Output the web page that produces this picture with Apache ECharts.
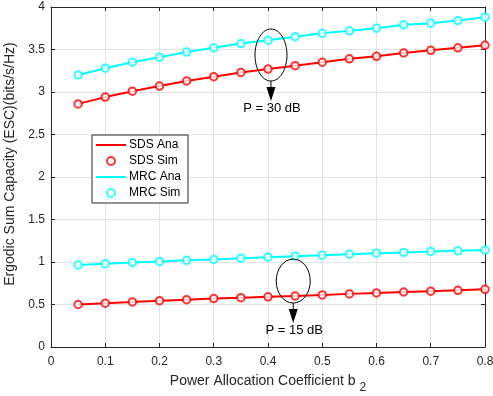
<!DOCTYPE html>
<html>
<head>
<meta charset="utf-8">
<script src="https://cdn.jsdelivr.net/npm/echarts@6/dist/echarts.min.js"></script>
<style>
  html, body { margin: 0; padding: 0; background: #fff; }
  #main { width: 493px; height: 396px; }
</style>
</head>
<body>
<div id="main"></div>
<script>
// power allocation coefficient b2
const xs = [0.05, 0.1, 0.15, 0.2, 0.25, 0.3, 0.35, 0.4, 0.45, 0.5, 0.55, 0.6, 0.65, 0.7, 0.75, 0.8];

// P = 30 dB
const sds30 = [2.86, 2.94, 3.01, 3.07, 3.13, 3.18, 3.23, 3.27, 3.31, 3.35, 3.39, 3.42, 3.46, 3.49, 3.52, 3.55];
const mrc30 = [3.20, 3.28, 3.35, 3.41, 3.47, 3.52, 3.57, 3.61, 3.65, 3.69, 3.72, 3.75, 3.79, 3.81, 3.84, 3.88];

// P = 15 dB
const sds15 = [0.50, 0.515, 0.53, 0.545, 0.557, 0.57, 0.58, 0.59, 0.60, 0.613, 0.625, 0.636, 0.647, 0.657, 0.667, 0.678];
const mrc15 = [0.965, 0.98, 0.995, 1.007, 1.02, 1.03, 1.045, 1.057, 1.068, 1.08, 1.092, 1.104, 1.113, 1.124, 1.132, 1.14];

const xTicks = ['0', '0.1', '0.2', '0.3', '0.4', '0.5', '0.6', '0.7', '0.8'];

// annotation: ellipse centre (data coords) and label
const notes = [
  { x: 0.4055, y: 3.435, rx: 16, ry: 26, label: 'P = 30 dB' },
  { x: 0.4465, y: 0.776, rx: 17, ry: 22, label: 'P = 15 dB' }
];

const RED = '#ff0000';
const CYAN = '#00ffff';
const AX = '#262626';
const FONT = '"Liberation Sans", Arial, sans-serif';
const LINE_ICON = 'path://M0,0H30V2H0Z';

function pairs(ys) {
  return xs.map((x, i) => [x, ys[i]]);
}

const chart = echarts.init(document.getElementById('main'));

const baseX = {
  type: 'value', min: 0, max: 0.8, interval: 0.1,
  axisLine: { show: true, onZero: false, lineStyle: { color: AX, width: 1 } },
  axisTick: { show: true, inside: true, length: 4, lineStyle: { color: AX } },
  splitLine: { show: false }
};
const baseY = {
  type: 'value', min: 0, max: 4, interval: 0.5,
  axisLine: { show: true, onZero: false, lineStyle: { color: AX, width: 1 } },
  axisTick: { show: true, inside: true, length: 4, lineStyle: { color: AX } },
  splitLine: { show: false }
};

function lineSeries(name, ys, color) {
  return {
    name: name, type: 'line', data: pairs(ys), symbol: 'none',
    lineStyle: { color: color, width: 2 }, itemStyle: { color: color },
    animation: false, z: 3
  };
}
function simSeries(name, ys, color) {
  return {
    name: name, type: 'scatter', data: pairs(ys), symbol: 'emptyCircle', symbolSize: 7.5,
    itemStyle: { color: color, borderColor: color, borderWidth: 1.8 },
    animation: false, z: 4
  };
}

chart.setOption({
  backgroundColor: '#fff',
  animation: false,
  textStyle: { fontFamily: FONT },
  grid: { left: 51, right: 8, top: 7, bottom: 49, outerBoundsMode: 'none', containLabel: false },
  xAxis: [
    Object.assign({}, baseX, {
      position: 'bottom',
      splitLine: { show: true, lineStyle: { color: '#e3e3e3', width: 1 } },
      axisLabel: {
        color: AX, fontSize: 12, margin: 9,
        formatter: v => xTicks[Math.round(v * 10)]
      },
      name: 'Power Allocation Coefficient b {sub|2}',
      nameLocation: 'middle', nameGap: 21,
      nameTextStyle: {
        color: AX, fontSize: 14, fontFamily: FONT,
        rich: { sub: { fontSize: 12, color: AX, padding: [14, 0, 0, 0], fontFamily: FONT } }
      }
    }),
    Object.assign({}, baseX, { position: 'top', axisLabel: { show: false } })
  ],
  yAxis: [
    Object.assign({}, baseY, {
      position: 'left',
      splitLine: { show: true, lineStyle: { color: '#e3e3e3', width: 1 } },
      axisLabel: { color: AX, fontSize: 12, margin: 6 },
      name: 'Ergodic Sum Capacity (ESC)(bits/s/Hz)',
      nameLocation: 'middle', nameGap: 29,
      nameTextStyle: { color: AX, fontSize: 14, fontFamily: FONT, padding: [0, 0, 0, 26] }
    }),
    Object.assign({}, baseY, { position: 'right', axisLabel: { show: false } })
  ],
  legend: {
    orient: 'vertical', left: 92, top: 135,
    itemWidth: 30, itemHeight: 8, itemGap: 4,
    padding: [4, 7, 4, 4],
    backgroundColor: '#fff', borderColor: AX, borderWidth: 1,
    textStyle: { color: '#000', fontSize: 12, fontFamily: FONT, padding: [0, 0, 0, -2] },
    data: [
      { name: 'SDS Ana', icon: LINE_ICON },
      { name: 'SDS Sim' },
      { name: 'MRC Ana', icon: LINE_ICON },
      { name: 'MRC Sim' }
    ]
  },
  series: [
    lineSeries('SDS Ana', sds30, RED),
    simSeries('SDS Sim', sds30, RED),
    lineSeries('MRC Ana', mrc30, CYAN),
    simSeries('MRC Sim', mrc30, CYAN),
    lineSeries('SDS Ana', sds15, RED),
    simSeries('SDS Sim', sds15, RED),
    lineSeries('MRC Ana', mrc15, CYAN),
    simSeries('MRC Sim', mrc15, CYAN)
  ]
});

// annotations placed through the axis scale
const elems = [];
notes.forEach(n => {
  const c = chart.convertToPixel({ gridIndex: 0 }, [n.x, n.y]);
  const top = c[1] + n.ry;
  elems.push({
    type: 'ellipse', shape: { cx: c[0], cy: c[1], rx: n.rx, ry: n.ry },
    style: { fill: 'none', stroke: '#000', lineWidth: 1 }, z: 10
  });
  elems.push({
    type: 'line', shape: { x1: c[0], y1: top, x2: c[0], y2: top + 16 },
    style: { stroke: '#000', lineWidth: 1 }, z: 10
  });
  elems.push({
    type: 'polygon',
    shape: { points: [[c[0] - 4.5, top + 6], [c[0] + 4.5, top + 6], [c[0], top + 20]] },
    style: { fill: '#000' }, z: 10
  });
  elems.push({
    type: 'text', x: c[0] + 1, y: top + 27,
    style: { text: n.label, fill: '#000', font: '13px ' + FONT, align: 'center', verticalAlign: 'middle' },
    z: 10
  });
});
chart.setOption({ graphic: { elements: elems } });
</script>
</body>
</html>
